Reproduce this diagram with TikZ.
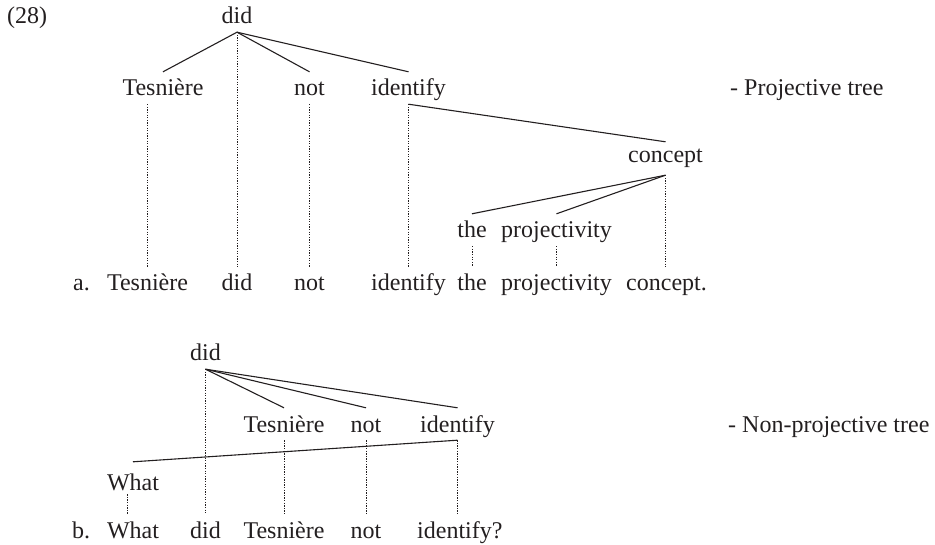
\documentclass[tikz,border=0pt]{standalone}
\usepackage{fontspec}
\setmainfont{Liberation Serif}
\begin{document}
\begin{tikzpicture}[x=1pt,y=-1pt,
  word/.style={inner sep=0pt,anchor=base,text height=24pt,text depth=8pt,
    font=\fontsize{24}{28}\selectfont,text=ink},
  lword/.style={word,anchor=base west},
  branch/.style={draw=ink,line width=1.1pt},
  proj/.style={draw=ink,line width=0.9pt,dash pattern=on 1.3pt off 1.3pt}]
\definecolor{ink}{RGB}{35,31,32}
\useasboundingbox (0,0) rectangle (935,545);

% ---------- (28a): projective tree ----------
\node[lword] (ex) at (7,24) {(28)};
\node[word] (d1) at (237,24) {did};
\node[word] (t1) at (163,96) {Tesnière};
\node[word] (n1) at (309.5,96) {not};
\node[word] (i1) at (408.5,96) {identify};
\node[word,text depth=12pt,text height=21pt] (c1) at (665.5,163) {concept};
\node[word] (th1) at (472,238) {the};
\node[word] (p1) at (556.5,238) {projectivity};
\node[lword] (lab1) at (730,96) {- Projective tree};

% linear order a.
\node[lword] (la) at (73,291) {a.};
\node[word] (ta) at (147.5,291) {Tesnière};
\node[word] (da) at (237,291) {did};
\node[word] (na) at (309.5,291) {not};
\node[word] (ia) at (408.5,291) {identify};
\node[word] (tha) at (472,291) {the};
\node[word] (pa) at (556.5,291) {projectivity};
\node[lword] (ca) at (626,291) {concept.};

% dependencies
\draw[branch] (d1.south) -- (t1.north);
\draw[branch] (d1.south) -- (n1.north);
\draw[branch] (d1.south) -- (i1.north);
\draw[branch] (i1.south) -- (c1.north);
\draw[branch] (c1.south) -- (th1.north);
\draw[branch] (c1.south) -- (p1.north);

% projection lines
\draw[proj] (t1.south -| ta.north) -- (ta.north);
\draw[proj] (d1.south) -- (d1.south |- da.north);
\draw[proj] (n1.south) -- (n1.south |- na.north);
\draw[proj] (i1.south) -- (i1.south |- ia.north);
\draw[proj] (th1.south) -- (th1.south |- tha.north);
\draw[proj] (p1.south) -- (p1.south |- pa.north);
\draw[proj] (c1.south) -- (c1.south |- ca.north);

% ---------- (28b): non-projective tree ----------
\node[word] (d2) at (205.5,361) {did};
\node[word] (t2) at (284,432) {Tesnière};
\node[word] (n2) at (366,432) {not};
\node[word] (i2) at (457.5,432) {identify};
\node[word,text height=28pt] (w2) at (133,490) {What};
\node[lword] (lab2) at (728,432) {- Non-projective tree};

% linear order b.
\node[lword] (lb) at (72,538) {b.};
\node[word] (wb) at (133,538) {What};
\node[word] (db) at (205.5,538) {did};
\node[word] (tb) at (284,538) {Tesnière};
\node[word] (nb) at (366,538) {not};
\node[lword] (ib) at (417,538) {identify?};

% dependencies
\draw[branch] (d2.south) -- (t2.north);
\draw[branch] (d2.south) -- (n2.north);
\draw[branch] (d2.south) -- (i2.north);
\draw[branch] (i2.south) -- (w2.north);

% projection lines
\draw[proj] ([xshift=-6pt,yshift=4pt]w2.south) -- ([xshift=-6pt]w2.south |- wb.north);
\draw[proj] (d2.south) -- (d2.south |- db.north);
\draw[proj] (t2.south) -- (t2.south |- tb.north);
\draw[proj] (n2.south) -- (n2.south |- nb.north);
\draw[proj] (i2.south) -- (i2.south |- ib.north);
\end{tikzpicture}
\end{document}
